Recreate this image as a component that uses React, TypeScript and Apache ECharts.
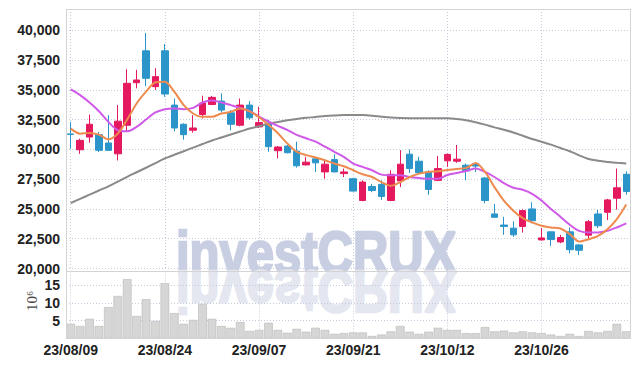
import React, { useEffect, useRef } from 'react';
import * as echarts from 'echarts';

const dates = [
  '23/08/09', '23/08/10', '23/08/11', '23/08/14', '23/08/16', '23/08/17', '23/08/18', '23/08/21', '23/08/22', '23/08/23',
  '23/08/24', '23/08/25', '23/08/28', '23/08/29', '23/08/30', '23/08/31', '23/09/01', '23/09/04', '23/09/05', '23/09/06',
  '23/09/07', '23/09/08', '23/09/11', '23/09/12', '23/09/13', '23/09/14', '23/09/15', '23/09/18', '23/09/19', '23/09/20',
  '23/09/21', '23/09/22', '23/09/25', '23/09/26', '23/09/27', '23/10/04', '23/10/05', '23/10/06', '23/10/10', '23/10/11',
  '23/10/12', '23/10/13', '23/10/16', '23/10/17', '23/10/18', '23/10/19', '23/10/20', '23/10/23', '23/10/24', '23/10/25',
  '23/10/26', '23/10/27', '23/10/30', '23/10/31', '23/11/01', '23/11/02', '23/11/03', '23/11/06', '23/11/07', '23/11/08',
];

const openP = [
  31300, 29970, 31040, 31240, 30540, 29630, 32030, 35600, 38280, 35270,
  38280, 33720, 32110, 31610, 32930, 33770, 34060, 33070, 32030, 33720,
  31890, 32200, 29890, 30280, 29860, 28700, 29210, 28110, 29150, 27970,
  27540, 25710, 26890, 27060, 25710, 27350, 29600, 29010, 28110, 27400,
  29040, 29010, 28670, 28800, 27600, 24580, 23650, 23390, 23530, 25000,
  22400, 23080, 22230, 23080, 21980, 22800, 24580, 24720, 25900, 27910,
];
const closeP = [
  31250, 30760, 32110, 29920, 29920, 32370, 35550, 35830, 35970, 36110,
  34650, 31800, 31240, 31800, 33890, 34370, 33300, 32110, 33720, 32650,
  32250, 30230, 30200, 29720, 28620, 28930, 28870, 28760, 28110, 28110,
  26500, 27260, 26550, 26050, 27910, 28760, 28390, 28050, 26640, 28390,
  29580, 29180, 28190, 28600, 25710, 24300, 23530, 22830, 24860, 24010,
  22570, 22430, 22600, 21580, 21530, 23930, 23590, 25760, 26780, 26470,
];
const lowP = [
  30050, 29630, 30560, 29770, 29900, 29070, 31520, 35130, 35320, 34990,
  34420, 31520, 30820, 31410, 32590, 33720, 33100, 31600, 31940, 32500,
  31800, 29800, 29240, 29660, 28470, 28660, 28110, 27540, 28080, 27680,
  26470, 25650, 26410, 25760, 25650, 26840, 28020, 28000, 26190, 27340,
  28530, 28870, 27400, 28100, 25480, 24290, 22830, 22660, 23020, 23790,
  22350, 21890, 22120, 21270, 21130, 22510, 23390, 24070, 24940, 26190,
];
const highP = [
  32300, 30900, 32930, 31470, 32870, 33720, 36730, 36680, 39780, 36820,
  38850, 34280, 32200, 32870, 34510, 34500, 34700, 33300, 34280, 34060,
  33580, 32490, 30280, 30370, 30650, 29380, 29240, 29040, 29580, 28390,
  27600, 27400, 27100, 27400, 28250, 29940, 30000, 29380, 28250, 29440,
  29660, 30370, 28810, 28900, 27680, 25420, 24350, 23960, 24970, 25570,
  23390, 23100, 22830, 23450, 22030, 24070, 24920, 25850, 28390, 28160,
];

const ma5 = [
  31746, 31324, 31380, 31240, 30845, 31324, 32507, 33859, 34845, 35634,
  35690, 34845, 33718, 33014, 32732, 32732, 33014, 33155, 33436, 33200,
  32700, 32062, 31356, 30508, 29802, 29520, 29322, 29096, 28814, 28588,
  28249, 27910, 27684, 27260, 26949, 27260, 27684, 27966, 28107, 28164,
  28270, 28361, 28446, 28850, 28107, 26836, 25706, 24858, 24237, 23870,
  23587, 23446, 23361, 22881, 22260, 22457, 22740, 23305, 24152, 25367,
];
const ma20 = [
  35040, 34560, 33940, 33210, 32310, 31610, 31520, 31890, 32510, 33100,
  33380, 33440, 33380, 33490, 33940, 34110, 33940, 33720, 33490, 33210,
  32760, 32345, 31978, 31639, 31215, 30932, 30650, 30226, 29802, 29379,
  28813, 28531, 28249, 27881, 27825, 27825, 27684, 27599, 27542, 27542,
  27850, 28022, 28192, 28390, 28107, 27684, 27175, 26780, 26610, 26271,
  25706, 25000, 24350, 23672, 23163, 23022, 23022, 23163, 23446, 23785,
];
const ma60 = [
  25500, 25850, 26200, 26550, 26900, 27300, 27700, 28080, 28460, 28850,
  29240, 29550, 29850, 30150, 30450, 30750, 31000, 31250, 31500, 31750,
  31950, 32150, 32300, 32450, 32560, 32650, 32720, 32800, 32850, 32880,
  32890, 32880, 32830, 32750, 32680, 32640, 32620, 32610, 32610, 32610,
  32610, 32560, 32450, 32280, 32080, 31850, 31650, 31420, 31150, 30870,
  30650, 30400, 30120, 29850, 29500, 29200, 29050, 28950, 28880, 28820,
];

// volume in millions of shares
const volume = [
  4.1, 3.5, 5.5, 3.5, 8.8, 11.9, 16.6, 6.3, 11.0, 4.9,
  15.5, 7.1, 4.1, 5.2, 9.7, 5.5, 3.5, 3.0, 4.6, 2.1,
  2.4, 4.4, 2.4, 1.6, 2.7, 1.9, 3.0, 2.4, 1.3, 1.5,
  1.7, 1.7, 0.7, 1.1, 2.0, 3.5, 1.9, 1.3, 1.9, 3.0,
  2.4, 2.4, 1.5, 1.5, 3.2, 2.0, 2.2, 1.7, 2.0, 1.7,
  1.5, 1.1, 0.7, 1.3, 0.7, 2.1, 1.7, 2.1, 4.1, 2.0,
];

const RED = '#e5195f';
const BLUE = '#2b95c9';
const GRID_LINE = '#c6cadd';
const FONT = "'Liberation Sans', Arial, sans-serif";
const WM_FONT = 'bold 49px "Liberation Sans", Arial, sans-serif';

export default function App() {
  const ref = useRef<HTMLDivElement>(null);

  useEffect(() => {
    const chart = echarts.init(ref.current!, null, { renderer: 'svg' });
    const candles = dates.map((_, i) => [openP[i], closeP[i], lowP[i], highP[i]]);
    const labelStyle = {
      color: '#222',
      fontFamily: FONT,
      fontWeight: 'bold' as const,
      fontSize: 14,
    };
    const splitLineX = {
      show: true,
      interval: 9,
      alignWithLabel: true,
      lineStyle: { color: GRID_LINE, type: [1, 2], width: 1 },
    };

    chart.setOption({
      animation: false,
      backgroundColor: '#ffffff',
      grid: [
        { left: 66, right: 8, top: 9, height: 259.5 },
        { left: 66, right: 8, top: 271.5, height: 67 },
      ],
      xAxis: [
        {
          type: 'category',
          gridIndex: 0,
          data: dates,
          axisLine: { show: false },
          axisTick: { show: false },
          axisLabel: { show: false },
          splitLine: splitLineX,
        },
        {
          type: 'category',
          gridIndex: 1,
          data: dates,
          axisLine: { show: false },
          axisTick: { show: false },
          axisLabel: { ...labelStyle, interval: 9, margin: 4 },
          splitLine: splitLineX,
        },
      ],
      yAxis: [
        {
          type: 'value',
          gridIndex: 0,
          min: 20000,
          max: 41790,
          interval: 2500,
          axisLine: { show: false },
          axisTick: { show: false },
          axisLabel: {
            ...labelStyle,
            margin: 6,
            showMaxLabel: false,
            formatter: (v: number) => v.toLocaleString('en-US'),
          },
          splitLine: { lineStyle: { color: GRID_LINE, type: [1, 2] } },
        },
        {
          type: 'value',
          gridIndex: 1,
          min: 0,
          max: 18.75,
          interval: 5,
          axisLine: { show: false },
          axisTick: { show: false },
          axisLabel: { ...labelStyle, margin: 6, showMaxLabel: false, showMinLabel: false },
          splitLine: { lineStyle: { color: GRID_LINE, type: [1, 2] } },
        },
      ],
      graphic: [
        {
          type: 'text',
          x: 176,
          y: 282,
          scaleX: 1.0,
          scaleY: 1.2,
          z: -1,
          silent: true,
          style: {
            text: 'investCRUX',
            fill: '#c9cfe2',
            stroke: '#c9cfe2',
            lineWidth: 2,
            font: WM_FONT,
            align: 'left',
            verticalAlign: 'bottom',
          },
        },
        {
          type: 'text',
          x: 176,
          y: 262,
          scaleX: 1.0,
          scaleY: -1.2,
          z: -1,
          silent: true,
          style: {
            text: 'investCRUX',
            fill: '#e4e7f0',
            stroke: '#e4e7f0',
            lineWidth: 2,
            font: WM_FONT,
            align: 'left',
            verticalAlign: 'bottom',
          },
        },
        {
          type: 'rect',
          silent: true,
          z: 10,
          shape: { x: 66.5, y: 9.5, width: 564, height: 329 },
          style: { fill: 'none', stroke: '#d4d4d4', lineWidth: 1 },
        },
        {
          type: 'line',
          silent: true,
          z: 10,
          shape: { x1: 66.5, y1: 271.5, x2: 630.5, y2: 271.5 },
          style: { stroke: '#d4d4d4', lineWidth: 1 },
        },
        {
          type: 'text',
          x: 32,
          y: 301,
          rotation: Math.PI / 2,
          silent: true,
          style: {
            text: '10⁶',
            fill: '#444',
            font: '15px "Liberation Serif", "DejaVu Serif", serif',
            align: 'center',
            verticalAlign: 'middle',
          },
        },
      ],
      series: [
        {
          type: 'candlestick',
          xAxisIndex: 0,
          yAxisIndex: 0,
          data: candles,
          barWidth: 7,
          itemStyle: {
            color: RED,
            color0: BLUE,
            borderColor: RED,
            borderColor0: BLUE,
            borderWidth: 1,
          },
        },
        {
          type: 'line',
          name: 'MA60',
          xAxisIndex: 0,
          yAxisIndex: 0,
          data: ma60,
          symbol: 'none',
          smooth: 0.3,
          lineStyle: { color: '#8a8a8a', width: 2 },
        },
        {
          type: 'line',
          name: 'MA20',
          xAxisIndex: 0,
          yAxisIndex: 0,
          data: ma20,
          symbol: 'none',
          smooth: 0.3,
          lineStyle: { color: '#cf5ae8', width: 2 },
        },
        {
          type: 'line',
          name: 'MA5',
          xAxisIndex: 0,
          yAxisIndex: 0,
          data: ma5,
          symbol: 'none',
          smooth: 0.3,
          lineStyle: { color: '#ef8a4e', width: 2 },
        },
        {
          type: 'bar',
          xAxisIndex: 1,
          yAxisIndex: 1,
          data: volume,
          barCategoryGap: '8%',
          itemStyle: { color: '#d6d6d6', borderColor: '#b9b9b9', borderWidth: 0.6 },
        },
      ],
    });

    return () => chart.dispose();
  }, []);

  return (
    <div
      ref={ref}
      style={{ position: 'fixed', left: 0, top: 0, width: 639, height: 366, background: '#fff' }}
    />
  );
}
